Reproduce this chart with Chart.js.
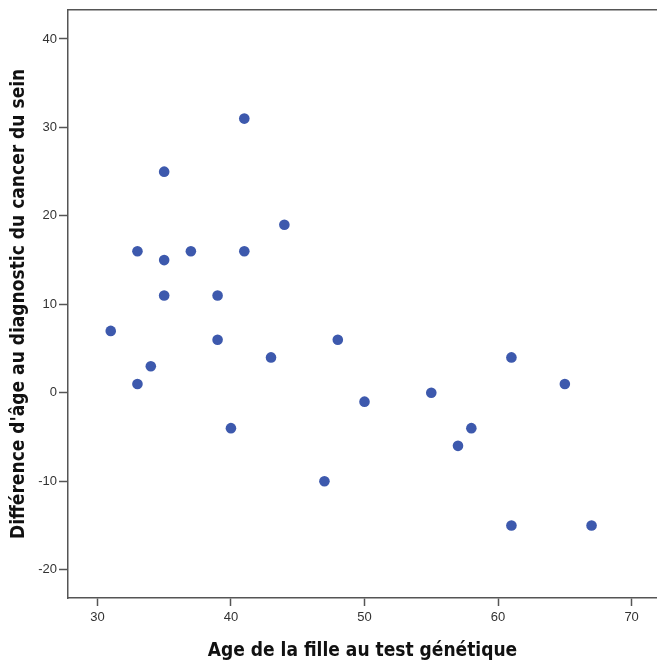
<!DOCTYPE html>
<html>
<head>
<meta charset="utf-8">
<script src="https://cdn.jsdelivr.net/npm/chart.js@4.4.1/dist/chart.umd.min.js"></script>
<style>
    html, body { margin: 0; padding: 0; background: #fff; }
    #wrap { width: 657px; height: 666px; }
</style>
</head>
<body>
<div id="wrap"><canvas id="scatterChart" width="657" height="666"></canvas></div>
<script>
// Age de la fille au test génétique
const ageFille = [31, 33, 33, 34, 35, 35, 35, 37, 39, 39, 40, 41, 41, 43, 44, 47, 48, 50, 55, 57, 58, 61, 61, 65, 67];
// Différence d'âge au diagnostic du cancer du sein
const diffAge = [7, 16, 1, 3, 25, 15, 11, 16, 11, 6, -4, 31, 16, 4, 19, -10, 6, -1, 0, -6, -4, 4, -15, 1, -15];

const xTicks = [30, 40, 50, 60, 70];
const yTicks = [-20, -10, 0, 10, 20, 30, 40];

const points = ageFille.map((a, i) => ({ x: a, y: diffAge[i] }));

const axisColor = '#555';
const titleFont = { family: '"Liberation Sans Narrow", "DejaVu Sans Condensed", Arial, sans-serif', size: 19, weight: 'bold' };
const tickFont = { family: '"Liberation Sans", Arial, sans-serif', size: 13 };

// draws the top edge of the plot frame
const topBorder = {
    id: 'topBorder',
    afterDraw(chart) {
        const { ctx, chartArea } = chart;
        ctx.save();
        ctx.strokeStyle = axisColor;
        ctx.lineWidth = 1.5;
        ctx.beginPath();
        ctx.moveTo(chartArea.left, chartArea.top);
        ctx.lineTo(chartArea.right, chartArea.top);
        ctx.stroke();
        ctx.restore();
    }
};

const ctx = document.getElementById('scatterChart').getContext('2d');
const scatterChart = new Chart(ctx, {
    type: 'scatter',
    data: {
        datasets: [{
            data: points,
            backgroundColor: '#3d59ad',
            borderColor: '#3d59ad',
            borderWidth: 0,
            pointRadius: 5.3,
            pointHoverRadius: 5.3
        }]
    },
    options: {
        responsive: false,
        animation: false,
        layout: { autoPadding: false, padding: { top: 7, right: 0, left: 0, bottom: 0 } },
        plugins: {
            legend: { display: false },
            tooltip: { enabled: false }
        },
        scales: {
            x: {
                type: 'linear',
                min: 27.8,
                max: 71.9,
                afterBuildTicks: (scale) => { scale.ticks = xTicks.map(v => ({ value: v })); },
                afterFit: (scale) => { scale.height = 68; },
                grid: { drawOnChartArea: false, tickLength: 8, tickWidth: 1.5, color: axisColor },
                border: { color: axisColor, width: 1.5 },
                ticks: { color: '#333', font: tickFont, padding: 4 },
                title: {
                    display: true,
                    text: 'Age de la fille au test génétique',
                    color: '#111',
                    font: titleFont,
                    padding: { top: 9 }
                }
            },
            y: {
                type: 'linear',
                min: -23.2,
                max: 43.3,
                afterBuildTicks: (scale) => { scale.ticks = yTicks.map(v => ({ value: v })); },
                afterFit: (scale) => { scale.width = 68; },
                grid: { drawOnChartArea: false, tickLength: 9, tickWidth: 1.5, color: axisColor },
                border: { color: axisColor, width: 1.5 },
                ticks: { color: '#333', font: tickFont, padding: 2 },
                title: {
                    display: true,
                    text: "Différence d'âge au diagnostic du cancer du sein",
                    color: '#111',
                    font: titleFont,
                    padding: { top: 8, bottom: 4 }
                }
            }
        }
    },
    plugins: [topBorder]
});
</script>
</body>
</html>
